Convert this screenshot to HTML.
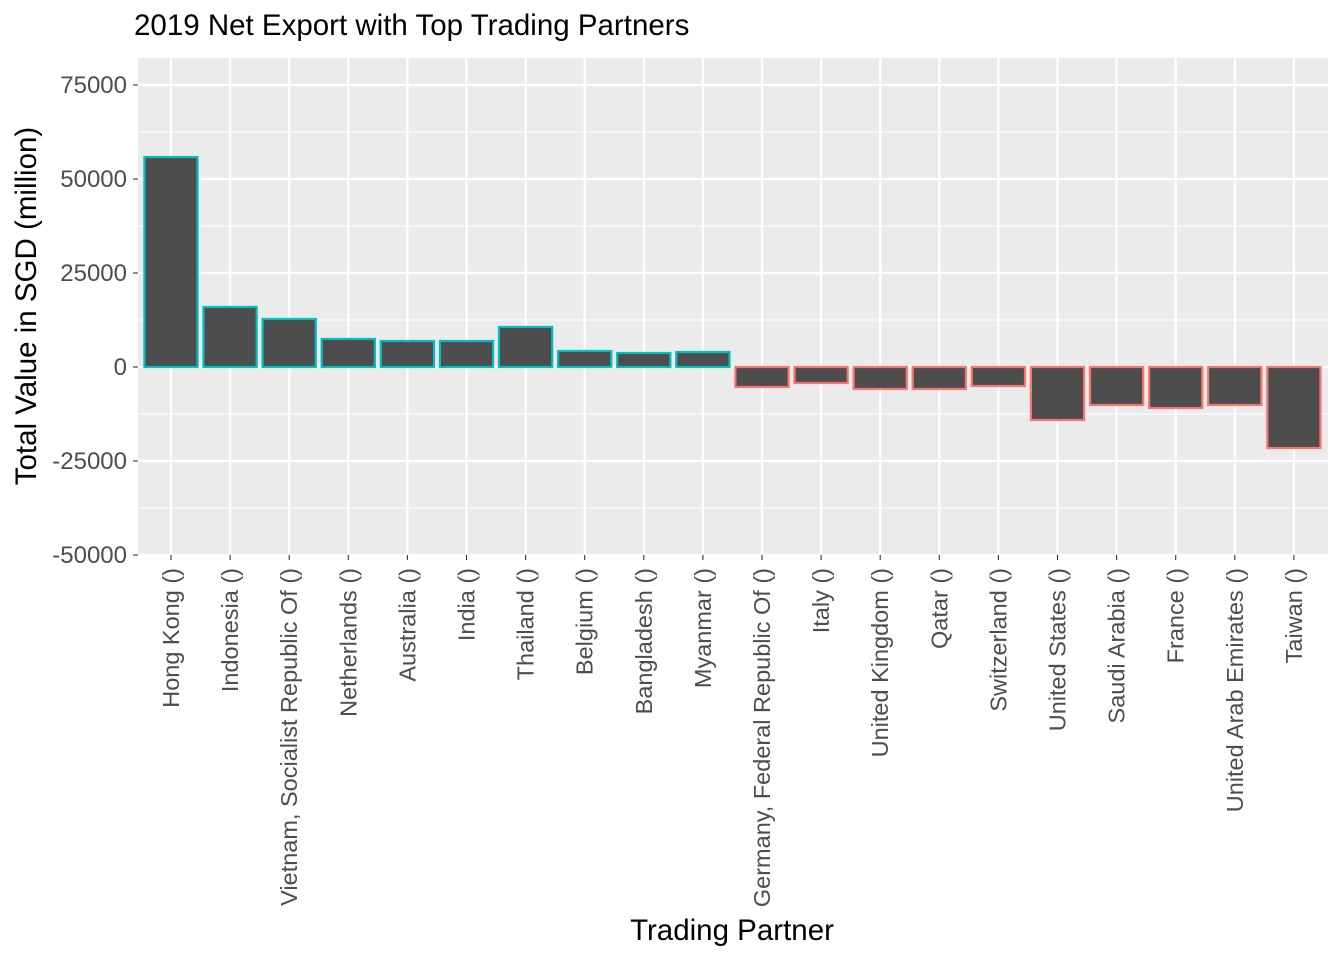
<!DOCTYPE html>
<html><head><style>body{margin:0;background:#fff}</style></head><body>
<svg width="1344" height="960" xmlns="http://www.w3.org/2000/svg" font-family="Liberation Sans, sans-serif">
<rect x="138" y="58" width="1190" height="497" fill="#ebebeb"/>
<g stroke="#fff" stroke-width="1.1">
<line x1="138" x2="1328" y1="132" y2="132"/><line x1="138" x2="1328" y1="226" y2="226"/><line x1="138" x2="1328" y1="320" y2="320"/><line x1="138" x2="1328" y1="414" y2="414"/><line x1="138" x2="1328" y1="508" y2="508"/>
</g>
<g stroke="#fff" stroke-width="2.2" id="maj"></g>
<g id="bars"></g>
<g id="labs" font-size="23.5" fill="#4d4d4d"></g>
<g font-size="24" fill="#4d4d4d" text-anchor="end">
<text x="127" y="93">75000</text><text x="127" y="187">50000</text><text x="127" y="281">25000</text><text x="127" y="375">0</text><text x="127" y="469">-25000</text><text x="127" y="563">-50000</text>
</g>
<g stroke="#333" stroke-width="1.1">
<line x1="133" x2="138" y1="85" y2="85"/><line x1="133" x2="138" y1="179" y2="179"/><line x1="133" x2="138" y1="273" y2="273"/><line x1="133" x2="138" y1="367" y2="367"/><line x1="133" x2="138" y1="461" y2="461"/><line x1="133" x2="138" y1="555" y2="555"/>
</g>
<text x="134" y="35" font-size="29.5" fill="#000">2019 Net Export with Top Trading Partners</text>
<text x="732" y="940" font-size="29.5" text-anchor="middle">Trading Partner</text>
<text transform="translate(36,306) rotate(-90)" font-size="29.5" text-anchor="middle">Total Value in SGD (million)</text>
</svg>
<script>
const names=["Hong Kong ()","Indonesia ()","Vietnam, Socialist Republic Of ()","Netherlands ()","Australia ()","India ()","Thailand ()","Belgium ()","Bangladesh ()","Myanmar ()","Germany, Federal Republic Of ()","Italy ()","United Kingdom ()","Qatar ()","Switzerland ()","United States ()","Saudi Arabia ()","France ()","United Arab Emirates ()","Taiwan ()"];
const ys=[157,307,319,339,341,341,327,351,353,352,387,383,389,389,386,420,405,408,405,448];
const ns="http://www.w3.org/2000/svg";
const maj=document.getElementById("maj"),bars=document.getElementById("bars"),labs=document.getElementById("labs");
function el(p,t,a,txt){const e=document.createElementNS(ns,t);for(const k in a)e.setAttribute(k,a[k]);if(txt)e.textContent=txt;p.appendChild(e);return e;}
[85,179,273,367,461,555].forEach(y=>el(maj,"line",{x1:138,x2:1328,y1:y,y2:y}));
const svg=document.querySelector("svg");
names.forEach((n,i)=>{const c=171+59.1*i;
el(maj,"line",{x1:c,x2:c,y1:58,y2:555});
const y=ys[i],top=Math.min(y,367),h=Math.abs(y-367);
el(bars,"rect",{x:c-26.6,y:top,width:53.2,height:h,fill:"#4d4d4d",stroke:i<10?"#00bfc4":"#f8766d","stroke-width":2.2});
el(svg,"line",{x1:c,x2:c,y1:555,y2:560,stroke:"#333","stroke-width":1.1});
el(labs,"text",{transform:`translate(${c+8},568) rotate(-90)`,"text-anchor":"end"},n);
});
</script>
</body></html>
